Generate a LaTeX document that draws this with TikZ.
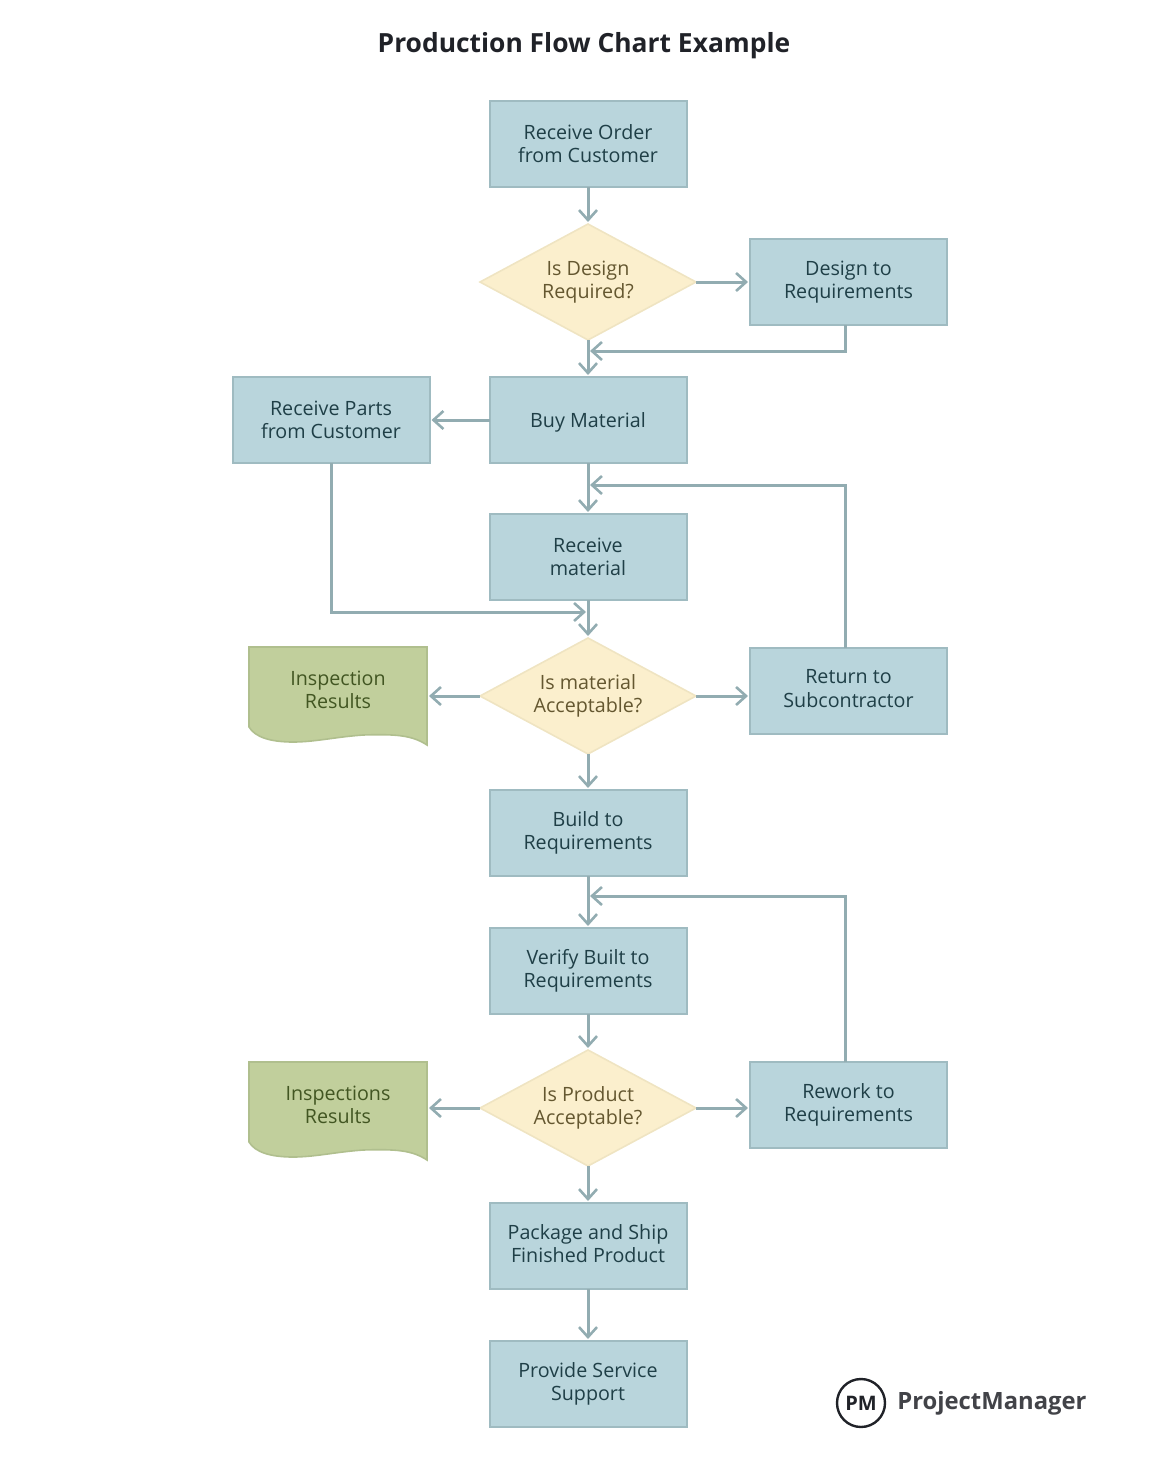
\documentclass[tikz,border=0pt]{standalone}
\usepackage{fontspec}
\setmainfont{Open Sans}
\usetikzlibrary{arrows.meta,shapes.geometric}
\definecolor{boxfill}{HTML}{B9D5DC}
\definecolor{boxline}{HTML}{9FBBC1}
\definecolor{boxtext}{HTML}{1F3F47}
\definecolor{decfill}{HTML}{FBEFCD}
\definecolor{decline}{HTML}{EFE4C2}
\definecolor{dectext}{HTML}{645730}
\definecolor{docfill}{HTML}{C1CF9C}
\definecolor{docline}{HTML}{B0BF8E}
\definecolor{doctext}{HTML}{425622}
\definecolor{flowline}{HTML}{92ACB1}
\definecolor{inktext}{HTML}{202228}
\tikzset{
    process/.style={rectangle,draw=boxline,fill=boxfill,text=boxtext,line width=1pt,outer sep=0pt,minimum width=98.5pt,minimum height=43pt,align=center,inner sep=0pt,font=\fontsize{9.85}{11.6}\selectfont},
    decision/.style={diamond,draw=decline,fill=decfill,text=dectext,line width=0.8pt,outer sep=0pt,aspect=1.87,minimum width=108pt,minimum height=58pt,align=center,inner sep=0pt,font=\fontsize{9.85}{11.6}\selectfont},
    docarea/.style={rectangle,text=doctext,outer sep=0pt,minimum width=89pt,minimum height=43pt,align=center,inner sep=0pt,font=\fontsize{9.85}{11.6}\selectfont},
    docshape/.style={draw=docline,fill=docfill,line width=0.8pt},
    flow/.style={draw=flowline,line width=1.5pt,shorten >=1pt,-{Straight Barb[length=5pt,width=9pt,line width=1.3pt]}}
}
\begin{document}
\begin{tikzpicture}[x=0.5pt,y=-0.5pt]
\useasboundingbox (0,0) rectangle (1170,1477);
\node[text=inktext,font=\fontsize{13.2}{16}\selectfont\bfseries] (title) at (584,46) {Production Flow Chart Example};
% main column
\node[process] (order) at (588,144) {Receive Order\\from Customer};
\node[decision] (designq) at (588,282) {Is Design\\Required?};
\node[process] (design) at (848.5,282) {Design to\\Requirements};
\node[process,text depth=0pt] (buy) at (588,420) {Buy Material};
\node[process] (parts) at (331,420) {Receive Parts\\from Customer};
\node[process] (receive) at (588,557) {Receive\\material};
\node[decision] (materialq) at (588,696) {Is material\\Acceptable?};
\node[process,text depth=2.5pt] (return) at (848.5,691) {Return to\\Subcontractor};
\node[process] (build) at (588,833) {Build to\\Requirements};
\node[process] (verify) at (588,971) {Verify Built to\\Requirements};
\node[decision] (productq) at (588,1108) {Is Product\\Acceptable?};
\node[process] (rework) at (848.5,1105) {Rework to\\Requirements};
\node[process,text depth=2.5pt] (package) at (588,1246) {Package and Ship\\Finished Product};
\node[process] (service) at (588,1384) {Provide Service\\Support};
% result sheets
\draw[docshape] (249,647)--(427,647)--(427,745)..controls(412,735) and (395,734)..(363,735)..controls(335,737) and (315,742)..(293,742)..controls(270,742) and (255,737)..(249,727)--cycle;
\node[docarea] (resultsa) at (338,690) {Inspection\\Results};
\draw[docshape] (249,1062)--(427,1062)--(427,1160)..controls(412,1150) and (395,1149)..(363,1150)..controls(335,1152) and (315,1157)..(293,1157)..controls(270,1157) and (255,1152)..(249,1142)--cycle;
\node[docarea] (resultsb) at (338,1105) {Inspections\\Results};
% merge points
\coordinate (mergedesign) at (588,351);
\coordinate (mergeparts) at (588,612);
\coordinate (mergereturn) at (588,485);
\coordinate (mergerework) at (588,896);
\coordinate (designout) at (845.5,325);
\coordinate (returnout) at (845.5,648);
\coordinate (reworkout) at (845.5,1062);
% connectors
\draw[flow] (order)--(designq);
\draw[flow] (designq)--(design.west |- designq);
\draw[flow] (designq)--(buy);
\draw[flow] (designout)|-(mergedesign);
\draw[flow] (buy)--(parts);
\draw[flow] (buy)--(receive);
\draw[flow] (parts)|-(mergeparts);
\draw[flow] (returnout)|-(mergereturn);
\draw[flow] (receive)--(materialq);
\draw[flow] (materialq)--(resultsa.east |- materialq);
\draw[flow] (materialq)--(return.west |- materialq);
\draw[flow] (materialq)--(build);
\draw[flow] (build)--(verify);
\draw[flow] (reworkout)|-(mergerework);
\draw[flow] (verify)--(productq);
\draw[flow] (productq)--(resultsb.east |- productq);
\draw[flow] (productq)--(rework.west |- productq);
\draw[flow] (productq)--(package);
\draw[flow] (package)--(service);
% logo
\node[circle,draw=inktext,line width=1.2pt,minimum size=24pt,inner sep=0pt,text=inktext,font=\fontsize{10}{11}\selectfont\bfseries] (logomark) at (861,1403) {PM};
\node[anchor=west,inner sep=0pt,text=inktext!85!white,font=\fontsize{11.9}{14}\selectfont\bfseries] (logotext) at (897,1403) {ProjectManager};
\end{tikzpicture}
\end{document}
